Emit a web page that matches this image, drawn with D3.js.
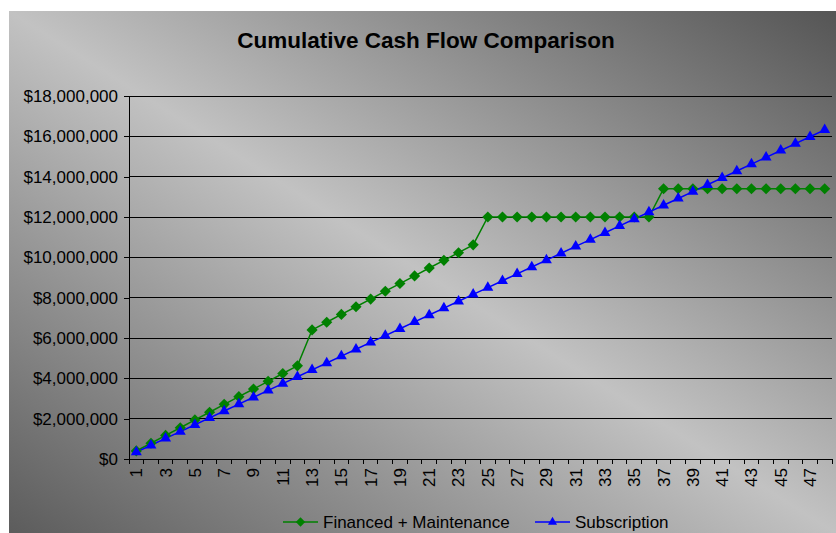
<!DOCTYPE html>
<html>
<head>
<meta charset="utf-8">
<script src="https://cdn.jsdelivr.net/npm/d3@7"></script>
<style>
  body { margin: 0; background: #fff; }
  text { font-family: Arial, "Liberation Sans", sans-serif; fill: #000; }
</style>
</head>
<body>
<div id="chart"></div>
<script>
// months shown on the category axis
var months = [1, 2, 3, 4, 5, 6, 7, 8, 9, 10, 11, 12, 13, 14, 15, 16, 17, 18, 19, 20, 21, 22, 23, 24,
              25, 26, 27, 28, 29, 30, 31, 32, 33, 34, 35, 36, 37, 38, 39, 40, 41, 42, 43, 44, 45, 46, 47, 48];

// cumulative cash flow, in millions of dollars
var financed = [0.40, 0.78, 1.17, 1.55, 1.94, 2.32, 2.71, 3.09, 3.47, 3.85, 4.24, 4.62,
                6.40, 6.78, 7.17, 7.55, 7.93, 8.32, 8.70, 9.08, 9.47, 9.85, 10.23, 10.62,
                12.00, 12.00, 12.00, 12.00, 12.00, 12.00, 12.00, 12.00, 12.00, 12.00, 12.00, 12.00,
                13.40, 13.40, 13.40, 13.40, 13.40, 13.40, 13.40, 13.40, 13.40, 13.40, 13.40, 13.40];
var subscription = [0.34, 0.68, 1.02, 1.36, 1.70, 2.04, 2.38, 2.72, 3.06, 3.40, 3.74, 4.08,
                    4.42, 4.76, 5.10, 5.44, 5.78, 6.12, 6.46, 6.80, 7.14, 7.48, 7.82, 8.16,
                    8.50, 8.84, 9.18, 9.52, 9.86, 10.20, 10.54, 10.88, 11.22, 11.56, 11.90, 12.24,
                    12.58, 12.92, 13.26, 13.60, 13.94, 14.28, 14.62, 14.96, 15.30, 15.64, 15.98, 16.32];
var yTicks = [0, 2, 4, 6, 8, 10, 12, 14, 16, 18];
var seriesNames = ["Financed + Maintenance", "Subscription"];

var width = 836, height = 533;
var plot = {left: 129, right: 832, top: 96, bottom: 459};

var svg = d3.select("#chart").append("svg")
    .attr("width", width)
    .attr("height", height);

// diagonal grey gradient behind everything
var defs = svg.append("defs");
var grad = defs.append("linearGradient")
    .attr("id", "bg")
    .attr("x1", 0).attr("y1", 1)
    .attr("x2", 1).attr("y2", 0);
grad.append("stop").attr("offset", "0%").attr("stop-color", "#5c5c5c");
grad.append("stop").attr("offset", "50%").attr("stop-color", "#c2c2c2");
grad.append("stop").attr("offset", "100%").attr("stop-color", "#555555");

svg.append("rect")
    .attr("x", 9).attr("y", 11)
    .attr("width", width - 9).attr("height", height - 11)
    .attr("fill", "url(#bg)");

var x = d3.scaleBand()
    .domain(months)
    .range([plot.left, plot.right])
    .paddingInner(0).paddingOuter(0);

var y = d3.scaleLinear()
    .domain([0, 18])
    .range([plot.bottom, plot.top]);

// gridlines
svg.append("g")
  .selectAll("line")
  .data(yTicks.slice(1))
  .enter().append("line")
    .attr("x1", plot.left).attr("x2", plot.right)
    .attr("y1", function(d) { return y(d); })
    .attr("y2", function(d) { return y(d); })
    .attr("stroke", "#000")
    .attr("stroke-width", 1)
    .attr("shape-rendering", "crispEdges");

// y axis
var yAxis = svg.append("g")
    .attr("transform", "translate(" + plot.left + ",0)")
    .call(d3.axisLeft(y)
      .tickValues(yTicks)
      .tickSize(5)
      .tickPadding(6)
      .tickFormat(function(d) { return "$" + d3.format(",")(d * 1e6); }));
yAxis.select(".domain").attr("stroke", "#000").attr("shape-rendering", "crispEdges");
yAxis.selectAll(".tick line").attr("stroke", "#000").attr("shape-rendering", "crispEdges");
yAxis.selectAll("text")
    .style("font-size", "17px")
    .style("font-family", "Arial, 'Liberation Sans', sans-serif")
    .attr("fill", "#000");

// x axis: line, boundary ticks, odd labels
var xg = svg.append("g");
xg.append("line")
    .attr("x1", plot.left).attr("x2", plot.right)
    .attr("y1", plot.bottom).attr("y2", plot.bottom)
    .attr("stroke", "#000")
    .attr("shape-rendering", "crispEdges");
xg.selectAll(".xtick")
    .data(months)
    .enter().append("line")
    .attr("class", "xtick")
    .attr("x1", function(d) { return x(d) + x.bandwidth(); })
    .attr("x2", function(d) { return x(d) + x.bandwidth(); })
    .attr("y1", plot.bottom).attr("y2", plot.bottom + 5)
    .attr("stroke", "#000")
    .attr("shape-rendering", "crispEdges");
xg.append("line")
    .attr("x1", plot.left).attr("x2", plot.left)
    .attr("y1", plot.bottom).attr("y2", plot.bottom + 5)
    .attr("stroke", "#000")
    .attr("shape-rendering", "crispEdges");
xg.selectAll(".xlabel")
    .data(months.filter(function(d) { return d % 2 == 1; }))
    .enter().append("text")
    .attr("class", "xlabel")
    .attr("transform", function(d) {
      return "translate(" + (x(d) + x.bandwidth() / 2) + "," + (plot.bottom + 9) + ") rotate(-90)";
    })
    .attr("text-anchor", "end")
    .attr("dy", "0.35em")
    .style("font-size", "17px")
    .text(function(d) { return d; });

// series
var cx = function(d, i) { return x(months[i]) + x.bandwidth() / 2; };
var line = d3.line()
    .x(cx)
    .y(function(d) { return y(d); });

var diamond = d3.symbol().type(d3.symbolSquare).size(62);
var triangle = d3.symbol().type(d3.symbolTriangle).size(52);

svg.append("path")
    .datum(financed)
    .attr("fill", "none")
    .attr("stroke", "#008000")
    .attr("stroke-width", 1.5)
    .attr("d", line);

svg.append("path")
    .datum(subscription)
    .attr("fill", "none")
    .attr("stroke", "#0000ff")
    .attr("stroke-width", 1.5)
    .attr("d", line);

svg.append("g")
  .selectAll("path")
  .data(financed)
  .enter().append("path")
    .attr("d", diamond)
    .attr("transform", function(d, i) { return "translate(" + cx(d, i) + "," + y(d) + ") rotate(45)"; })
    .attr("fill", "#008000");

svg.append("g")
  .selectAll("path")
  .data(subscription)
  .enter().append("path")
    .attr("d", triangle)
    .attr("transform", function(d, i) { return "translate(" + cx(d, i) + "," + y(d) + ")"; })
    .attr("fill", "#0000ff");

// title
svg.append("text")
    .attr("x", 426)
    .attr("y", 48)
    .attr("text-anchor", "middle")
    .style("font-size", "22.5px")
    .style("font-weight", "bold")
    .text("Cumulative Cash Flow Comparison");

// legend
var legend = svg.append("g").attr("transform", "translate(283,522)");
var items = [
  {name: seriesNames[0], color: "#008000", sym: d3.symbol().type(d3.symbolSquare).size(44), rot: 45, x: 0},
  {name: seriesNames[1], color: "#0000ff", sym: d3.symbol().type(d3.symbolTriangle).size(36), rot: 0, x: 252}
];
var li = legend.selectAll("g").data(items).enter().append("g")
    .attr("transform", function(d) { return "translate(" + d.x + ",0)"; });
li.append("line")
    .attr("x1", 0).attr("x2", 35)
    .attr("stroke", function(d) { return d.color; })
    .attr("stroke-width", 1.5);
li.append("path")
    .attr("d", function(d) { return d.sym(); })
    .attr("transform", function(d) { return "translate(17.5,0) rotate(" + d.rot + ")"; })
    .attr("fill", function(d) { return d.color; });
li.append("text")
    .attr("x", 40)
    .attr("dy", "0.35em")
    .style("font-size", "17px")
    .text(function(d) { return d.name; });
</script>
</body>
</html>
